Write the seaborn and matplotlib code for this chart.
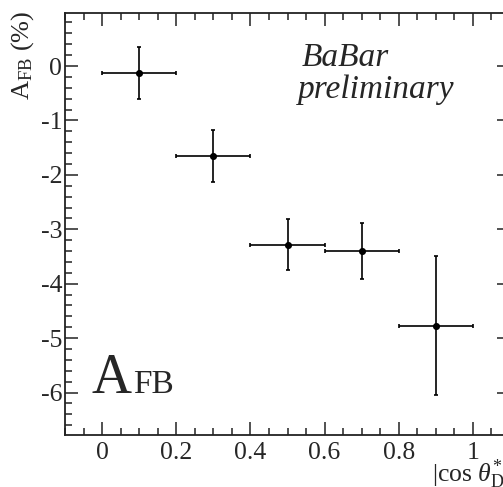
import matplotlib
matplotlib.use("Agg")
import matplotlib.pyplot as plt
import seaborn as sns
import numpy as np
import pandas as pd
from matplotlib.ticker import MultipleLocator, FuncFormatter

# data
cos_bins = [0.1, 0.3, 0.5, 0.7, 0.9]
afb = [-0.13, -1.66, -3.28, -3.40, -4.77]
afb_err = [0.48, 0.48, 0.46, 0.51, 1.28]
bin_halfwidth = [0.1, 0.1, 0.1, 0.1, 0.1]
x_ticks = [0, 0.2, 0.4, 0.6, 0.8, 1]
y_ticks = [-6, -5, -4, -3, -2, -1, 0]

df = pd.DataFrame({"x": cos_bins, "y": afb})

sns.set_style("ticks")
plt.rcParams["font.family"] = ["Liberation Serif", "DejaVu Serif"]
plt.rcParams["mathtext.fontset"] = "custom"
plt.rcParams["mathtext.rm"] = "Liberation Serif"
plt.rcParams["mathtext.it"] = "Liberation Serif:italic"
plt.rcParams["axes.unicode_minus"] = False

W, H = 503, 487
fig = plt.figure(figsize=(W / 100, H / 100), dpi=100)
# axes frame in pixels: left 65, right ~510 (cut), top 12.7, bottom 435
l, r, t, b = 65, 510, 12.7, 435
ax = fig.add_axes([l / W, 1 - b / H, (r - l) / W, (b - t) / H])

ax.errorbar(cos_bins, afb, xerr=bin_halfwidth, yerr=afb_err, fmt="none",
            ecolor="black", elinewidth=1.2, capsize=1.6, capthick=1.2, zorder=2)
sns.scatterplot(data=df, x="x", y="y", ax=ax, color="black", s=26,
                edgecolor="black", linewidth=0, zorder=3, legend=False)

ax.set_xlim(-0.1, 1.1)
ax.set_ylim(-6.78, 0.98)
ax.set_xticks(x_ticks)
ax.set_yticks(y_ticks)
ax.xaxis.set_minor_locator(MultipleLocator(0.05))
ax.yaxis.set_minor_locator(MultipleLocator(0.2))
ax.xaxis.set_major_formatter(FuncFormatter(lambda v, p: "%g" % v))
ax.yaxis.set_major_formatter(FuncFormatter(lambda v, p: "%g" % v))

for s in ax.spines.values():
    s.set_linewidth(1.3)
    s.set_color("#222222")
ax.tick_params(which="both", direction="in", top=True, right=True,
               color="#333333", width=1.2, labelsize=18.5)
ax.tick_params(which="major", length=9.5)
ax.tick_params(which="minor", length=5)
ax.tick_params(axis="x", which="major", pad=5)
ax.tick_params(axis="y", which="major", pad=2)

ax.set_xlabel("")
ax.set_ylabel("")

# y-axis title (top aligned, rotated)
fig.text(23 / W, 1 - 11 / H, r"A$_{\rm FB}$ (%)", rotation=90, ha="center",
         va="top", fontsize=19)
# x-axis title (cut at right edge)
fig.text(432 / W, 1 - 482 / H, r"|cos $\theta^{*}_{\rm D}$|", ha="left",
         va="baseline", fontsize=18.5)

# BaBar preliminary
fig.text(302 / W, 1 - 66 / H, "BaBar", fontstyle="italic", ha="left",
         va="baseline", fontsize=24)
fig.text(298 / W, 1 - 98 / H, "preliminary", fontstyle="italic", ha="left",
         va="baseline", fontsize=24)

# big A_FB label
fig.text(92 / W, 1 - 393 / H, "A", ha="left", va="baseline", fontsize=40)
fig.text(133 / W, 1 - 393 / H, "FB", ha="left", va="baseline", fontsize=24)

fig.savefig("out.png", dpi=100)
